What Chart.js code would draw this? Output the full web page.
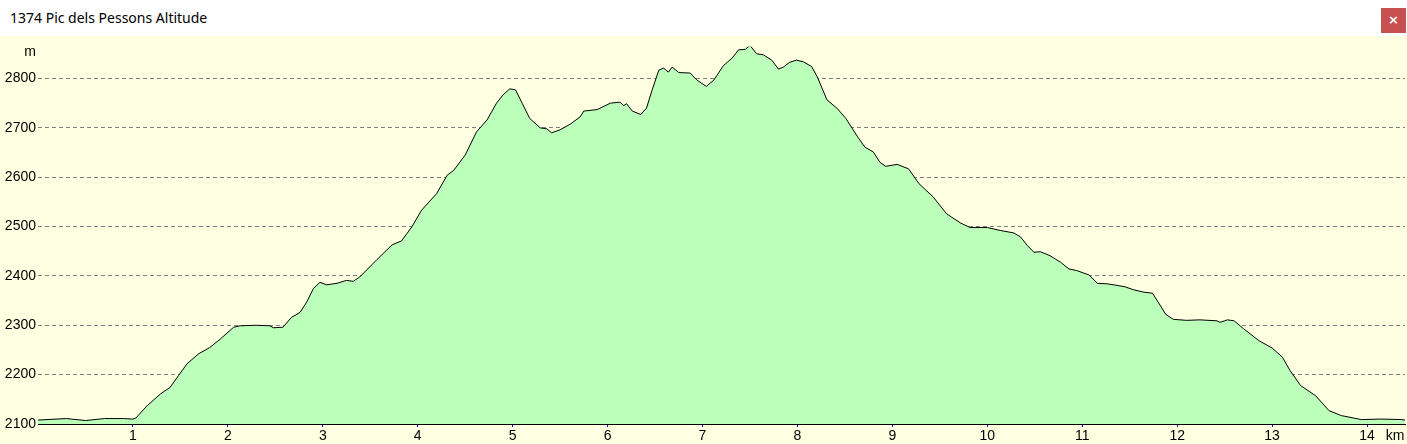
<!DOCTYPE html>
<html>
<head>
<meta charset="utf-8">
<script src="https://cdn.jsdelivr.net/npm/chart.js@4/dist/chart.umd.min.js"></script>
<style>
  html, body { margin: 0; padding: 0; background: #ffffe1; }
  #bar {
    position: absolute; left: 0; top: 0; width: 1407px; height: 36px;
    background: #ffffff; font-family: "Noto Sans", sans-serif; font-size: 14px; color: #000;
  }
  #bar span { position: absolute; left: 10px; top: 8px; }
  #close {
    position: absolute; left: 1381px; top: 8px; width: 25px; height: 25px;
    background: #c75050; color: #fff; font: bold 13px "DejaVu Sans", sans-serif;
    text-align: center; line-height: 24px;
  }
  #wrap { position: absolute; left: 0; top: 36px; width: 1407px; height: 408px; }
</style>
</head>
<body>
<div id="bar"><span>1374 Pic dels Pessons Altitude</span><div id="close">×</div></div>
<div id="wrap"><canvas id="profile"></canvas></div>
<script>
// distance along the track (km) and altitude (m)
var distKm = [0.00, 0.30, 0.50, 0.70, 0.90, 1.00, 1.03, 1.15, 1.29, 1.39, 1.48, 1.57, 1.69, 1.81, 1.92,
  2.06, 2.13, 2.30, 2.44, 2.48, 2.58, 2.67, 2.76, 2.83, 2.90, 2.97, 3.04, 3.15, 3.25, 3.32, 3.39,
  3.57, 3.73, 3.83, 3.94, 4.04, 4.20, 4.31, 4.38, 4.50, 4.62, 4.73, 4.83, 4.90, 4.97, 5.03, 5.10,
  5.18, 5.29, 5.36, 5.41, 5.50, 5.61, 5.71, 5.75, 5.89, 6.03, 6.13, 6.17, 6.20, 6.26, 6.35, 6.41,
  6.47, 6.54, 6.59, 6.64, 6.68, 6.75, 6.87, 6.94, 7.04, 7.12, 7.22, 7.31, 7.38, 7.45, 7.50, 7.57,
  7.64, 7.73, 7.80, 7.85, 7.92, 7.99, 8.06, 8.15, 8.21, 8.31, 8.42, 8.51, 8.63, 8.71, 8.80, 8.87,
  8.93, 9.05, 9.17, 9.28, 9.43, 9.57, 9.72, 9.82, 10.00, 10.14, 10.28, 10.35, 10.42, 10.49, 10.56,
  10.66, 10.77, 10.86, 10.94, 11.07, 11.16, 11.26, 11.33, 11.45, 11.54, 11.65, 11.74, 11.80, 11.88,
  11.96, 12.10, 12.24, 12.42, 12.45, 12.53, 12.60, 12.70, 12.86, 13.00, 13.11, 13.19, 13.30, 13.46,
  13.60, 13.73, 13.94, 14.15, 14.36, 14.40];
var altM = [2108, 2111, 2107, 2111, 2111, 2110, 2112, 2137, 2161, 2174, 2198, 2222, 2242, 2255, 2272,
  2296, 2299, 2300, 2299, 2295, 2296, 2316, 2326, 2347, 2374, 2387, 2382, 2385, 2391, 2389, 2398,
  2433, 2463, 2471, 2500, 2533, 2567, 2604, 2614, 2645, 2692, 2716, 2750, 2767, 2779, 2777, 2750,
  2719, 2700, 2698, 2690, 2696, 2708, 2722, 2734, 2737, 2750, 2752, 2745, 2749, 2734, 2727, 2740,
  2777, 2817, 2821, 2813, 2823, 2812, 2811, 2797, 2784, 2797, 2826, 2841, 2858, 2859, 2867, 2850,
  2848, 2837, 2819, 2823, 2833, 2837, 2834, 2824, 2803, 2757, 2739, 2719, 2683, 2661, 2651, 2630,
  2622, 2626, 2617, 2587, 2560, 2526, 2507, 2498, 2498, 2492, 2487, 2479, 2462, 2448, 2449,
  2441, 2428, 2414, 2411, 2402, 2385, 2384, 2382, 2378, 2372, 2367, 2365, 2347, 2322,
  2312, 2310, 2311, 2309, 2306, 2311, 2309, 2293, 2269, 2254, 2235, 2208, 2178, 2157,
  2127, 2117, 2109, 2110, 2109, 2108];
var altTicks = [2100, 2200, 2300, 2400, 2500, 2600, 2700, 2800];
var kmTicks = [1, 2, 3, 4, 5, 6, 7, 8, 9, 10, 11, 12, 13, 14];

var points = distKm.map(function(d, i) { return { x: d, y: altM[i] }; });

var unitLabels = {
  id: 'unitLabels',
  afterDraw: function(chart) {
    var ctx = chart.ctx, ys = chart.scales.y, xs = chart.scales.x;
    ctx.save();
    ctx.fillStyle = '#000';
    ctx.font = '14px "Liberation Sans", Arial, sans-serif';
    ctx.textAlign = 'center';
    ctx.textBaseline = 'middle';
    ctx.fillText('m', 30, ys.getPixelForValue(2800) - 26);
    ctx.fillText('km', chart.chartArea.right - 10, xs.top + 12);
    ctx.restore();
  }
};

window.onload = function() {
  var canvas = document.getElementById('profile');
  new Chart(canvas, {
    type: 'line',
    data: {
      datasets: [{
        data: points,
        borderColor: '#000000',
        borderWidth: 1,
        backgroundColor: '#bbffbb',
        fill: 'start',
        pointRadius: 0,
        tension: 0
      }]
    },
    options: {
      responsive: true,
      maintainAspectRatio: false,
      animation: false,
      layout: { padding: { right: 2, top: 0 } },
      plugins: { legend: { display: false }, tooltip: { enabled: false } },
      scales: {
        x: {
          type: 'linear',
          min: 0,
          max: 14.4,
          afterBuildTicks: function(s) { s.ticks = kmTicks.map(function(v) { return { value: v }; }); },
          afterFit: function(s) { s.height = 20; },
          grid: { drawOnChartArea: false, tickColor: '#0000ff', tickLength: 3 },
          border: { color: '#000000', width: 1 },
          ticks: {
            color: '#000', padding: 1, maxRotation: 0,
            callback: function(v) { return String(v); },
            font: { family: '"Liberation Sans", Arial, sans-serif', size: 14 }
          }
        },
        y: {
          min: 2100,
          max: 2865,
          afterBuildTicks: function(s) { s.ticks = altTicks.map(function(v) { return { value: v }; }); },
          afterFit: function(s) { s.width = 38; },
          grid: { color: '#808080', drawTicks: false },
          border: { display: false, dash: [4, 3] },
          ticks: {
            color: '#000', padding: 2,
            callback: function(v) { return String(v); },
            font: { family: '"Liberation Sans", Arial, sans-serif', size: 14 }
          }
        }
      }
    },
    plugins: [unitLabels]
  });
};
</script>
</body>
</html>
